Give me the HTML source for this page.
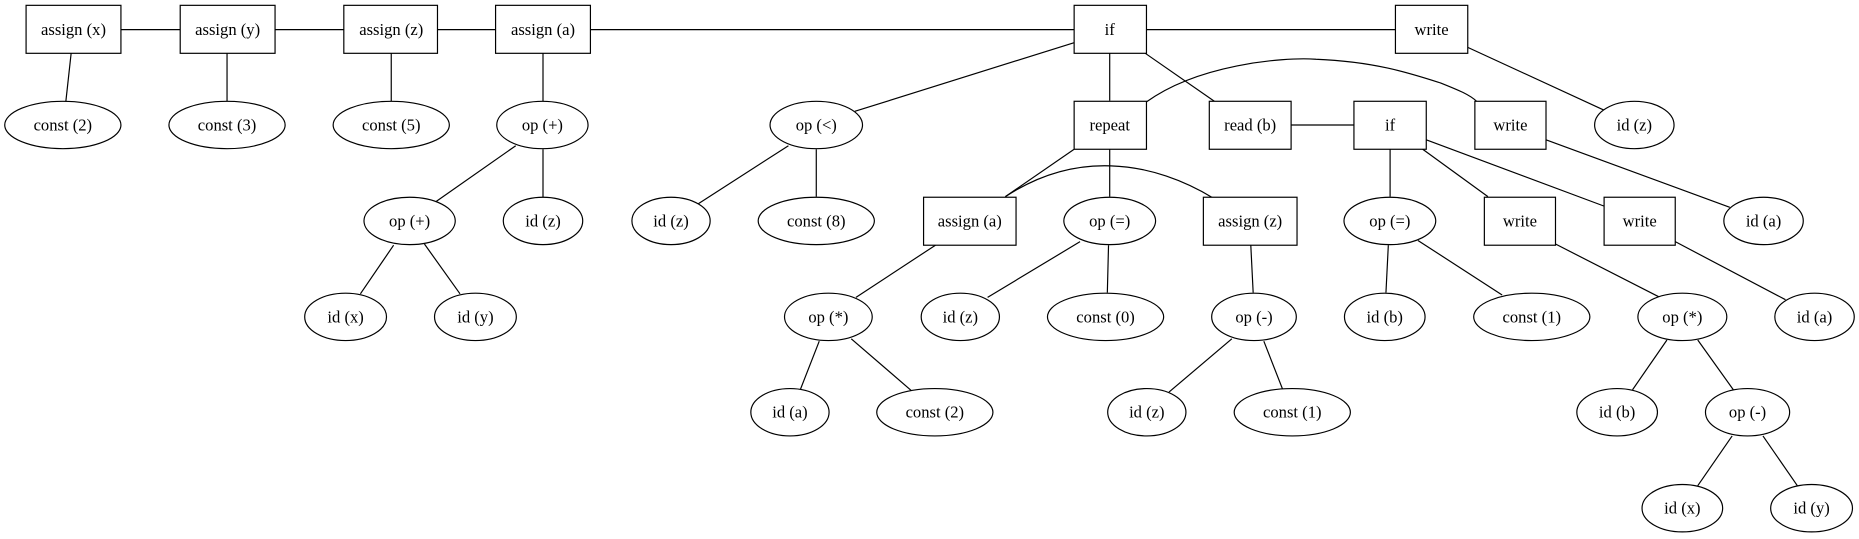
<!DOCTYPE html>
<html><head><meta charset="utf-8"><style>
html,body{margin:0;padding:0;background:#fff;}
svg{display:block;}
text{font-family:"Liberation Serif",serif;font-size:14px;text-anchor:middle;dominant-baseline:central;fill:#000;}
.n{fill:#fff;stroke:#000;stroke-width:1;}
.e{stroke:#000;stroke-width:1;fill:none;}
</style></head><body>
<svg width="1859" height="539" viewBox="0 0 1568 455" preserveAspectRatio="none" xmlns="http://www.w3.org/2000/svg">
<g class="e">
<line x1="102" y1="25" x2="1177" y2="25"/>
<line x1="60" y1="45" x2="55.5" y2="86"/>
<line x1="191.5" y1="45" x2="191.5" y2="86"/>
<line x1="330" y1="45" x2="330" y2="86"/>
<line x1="458" y1="45" x2="458" y2="86"/>
<line x1="435" y1="123" x2="368" y2="170"/>
<line x1="458" y1="126" x2="458" y2="167"/>
<line x1="332" y1="207" x2="304" y2="248"/>
<line x1="358" y1="206" x2="388" y2="248"/>
<line x1="906" y1="36" x2="721" y2="94"/>
<line x1="936" y1="45" x2="936" y2="85"/>
<line x1="966" y1="45" x2="1025" y2="86"/>
<line x1="1238" y1="40" x2="1353" y2="93"/>
<path d="M967,86 C1010,55 1080,48 1110,50 C1160,52 1190,62 1215,70 C1230,76 1240,80 1246,86"/>
<line x1="906" y1="126" x2="848" y2="166"/>
<line x1="936" y1="126" x2="936" y2="166"/>
<path d="M848,166 C880,145 910,139 937,140 C970,141 1000,153 1023,167"/>
<line x1="1089" y1="105.5" x2="1142" y2="105.5"/>
<line x1="1304" y1="118" x2="1459" y2="175"/>
<line x1="665" y1="123" x2="589" y2="172"/>
<line x1="688.5" y1="126" x2="688.5" y2="166"/>
<line x1="789" y1="207" x2="722" y2="251"/>
<line x1="911" y1="204" x2="833" y2="251"/>
<line x1="935" y1="207" x2="934" y2="247"/>
<line x1="1055" y1="207" x2="1057" y2="247"/>
<line x1="691" y1="288" x2="675" y2="329"/>
<line x1="718" y1="286" x2="769" y2="330"/>
<line x1="1039" y1="286" x2="986" y2="331"/>
<line x1="1066" y1="288" x2="1082" y2="329"/>
<line x1="1172.5" y1="126" x2="1172.5" y2="166"/>
<line x1="1200" y1="126" x2="1255" y2="166"/>
<line x1="1203" y1="118" x2="1353" y2="174"/>
<line x1="1171" y1="207" x2="1169" y2="247"/>
<line x1="1196" y1="203" x2="1267" y2="249"/>
<line x1="1312" y1="206" x2="1404" y2="253"/>
<line x1="1413" y1="204" x2="1506" y2="253"/>
<line x1="1406" y1="287" x2="1377" y2="329"/>
<line x1="1432" y1="287" x2="1462" y2="329"/>
<line x1="1461" y1="368" x2="1432" y2="410"/>
<line x1="1487" y1="368" x2="1516" y2="410"/>
</g>
<g class="n">
<rect x="22" y="4.5" width="80" height="40.5"/>
<rect x="152" y="4.5" width="80" height="40.5"/>
<rect x="290" y="4.5" width="79" height="40.5"/>
<rect x="418" y="4.5" width="80" height="40.5"/>
<rect x="906" y="4.5" width="61" height="40.5"/>
<rect x="1177" y="4.5" width="61" height="40.5"/>
<rect x="906" y="85.5" width="61" height="40.5"/>
<rect x="1020" y="85.5" width="69" height="40.5"/>
<rect x="1142" y="85.5" width="61" height="40.5"/>
<rect x="1244" y="85.5" width="60" height="40.5"/>
<rect x="779" y="166.5" width="78" height="40.5"/>
<rect x="1015" y="166.5" width="79" height="40.5"/>
<rect x="1252" y="166.5" width="60" height="40.5"/>
<rect x="1353" y="166.5" width="60" height="40.5"/>
<ellipse cx="53" cy="105.5" rx="49" ry="20"/>
<ellipse cx="191.5" cy="105.5" rx="49" ry="20"/>
<ellipse cx="330" cy="105.5" rx="49" ry="20"/>
<ellipse cx="457.5" cy="105.5" rx="38.5" ry="20"/>
<ellipse cx="688.5" cy="105.5" rx="39" ry="20"/>
<ellipse cx="1378.5" cy="105.5" rx="33.5" ry="20"/>
<ellipse cx="345.5" cy="186.5" rx="38.5" ry="20"/>
<ellipse cx="458" cy="186.5" rx="33.5" ry="20"/>
<ellipse cx="566" cy="186.5" rx="33" ry="20"/>
<ellipse cx="688.5" cy="186.5" rx="49" ry="20"/>
<ellipse cx="936" cy="186.5" rx="38.7" ry="20"/>
<ellipse cx="1172.3" cy="186.5" rx="38.7" ry="20"/>
<ellipse cx="1487.5" cy="186.5" rx="33.5" ry="20"/>
<ellipse cx="291.5" cy="267.5" rx="34.5" ry="20"/>
<ellipse cx="401" cy="267.5" rx="34.5" ry="20"/>
<ellipse cx="698.7" cy="267.5" rx="37" ry="20"/>
<ellipse cx="810" cy="267.5" rx="33" ry="20"/>
<ellipse cx="932.5" cy="267.5" rx="49" ry="20"/>
<ellipse cx="1057.7" cy="267.5" rx="35.7" ry="20"/>
<ellipse cx="1168" cy="267.5" rx="34" ry="20"/>
<ellipse cx="1292" cy="267.5" rx="49" ry="20"/>
<ellipse cx="1419" cy="267.5" rx="37.5" ry="20"/>
<ellipse cx="1530.5" cy="267.5" rx="33.5" ry="20"/>
<ellipse cx="666.3" cy="348" rx="33" ry="20"/>
<ellipse cx="788.5" cy="348" rx="49" ry="20"/>
<ellipse cx="967.3" cy="348" rx="33" ry="20"/>
<ellipse cx="1090" cy="348" rx="49" ry="20"/>
<ellipse cx="1364" cy="348" rx="34" ry="20"/>
<ellipse cx="1474" cy="348" rx="35.5" ry="20"/>
<ellipse cx="1419" cy="429" rx="34" ry="20"/>
<ellipse cx="1528" cy="429" rx="34.5" ry="20"/>
</g>
<g>
<text x="62" y="25">assign (x)</text>
<text x="192" y="25">assign (y)</text>
<text x="330" y="25">assign (z)</text>
<text x="458" y="25">assign (a)</text>
<text x="936" y="25">if</text>
<text x="1207.5" y="25">write</text>
<text x="936" y="105.5">repeat</text>
<text x="1054.5" y="105.5">read (b)</text>
<text x="1172.5" y="105.5">if</text>
<text x="1274" y="105.5">write</text>
<text x="818" y="186.5">assign (a)</text>
<text x="1054.5" y="186.5">assign (z)</text>
<text x="1282" y="186.5">write</text>
<text x="1383" y="186.5">write</text>
<text x="53" y="105.5">const (2)</text>
<text x="191.5" y="105.5">const (3)</text>
<text x="330" y="105.5">const (5)</text>
<text x="457.5" y="105.5">op (+)</text>
<text x="688.5" y="105.5">op (&lt;)</text>
<text x="1378.5" y="105.5">id (z)</text>
<text x="345.5" y="186.5">op (+)</text>
<text x="458" y="186.5">id (z)</text>
<text x="566" y="186.5">id (z)</text>
<text x="688.5" y="186.5">const (8)</text>
<text x="936" y="186.5">op (=)</text>
<text x="1172.3" y="186.5">op (=)</text>
<text x="1487.5" y="186.5">id (a)</text>
<text x="291.5" y="267.5">id (x)</text>
<text x="401" y="267.5">id (y)</text>
<text x="698.7" y="267.5">op (*)</text>
<text x="810" y="267.5">id (z)</text>
<text x="932.5" y="267.5">const (0)</text>
<text x="1057.7" y="267.5">op (-)</text>
<text x="1168" y="267.5">id (b)</text>
<text x="1292" y="267.5">const (1)</text>
<text x="1419" y="267.5">op (*)</text>
<text x="1530.5" y="267.5">id (a)</text>
<text x="666.3" y="348">id (a)</text>
<text x="788.5" y="348">const (2)</text>
<text x="967.3" y="348">id (z)</text>
<text x="1090" y="348">const (1)</text>
<text x="1364" y="348">id (b)</text>
<text x="1474" y="348">op (-)</text>
<text x="1419" y="429">id (x)</text>
<text x="1528" y="429">id (y)</text>
</g>
</svg>
</body></html>
